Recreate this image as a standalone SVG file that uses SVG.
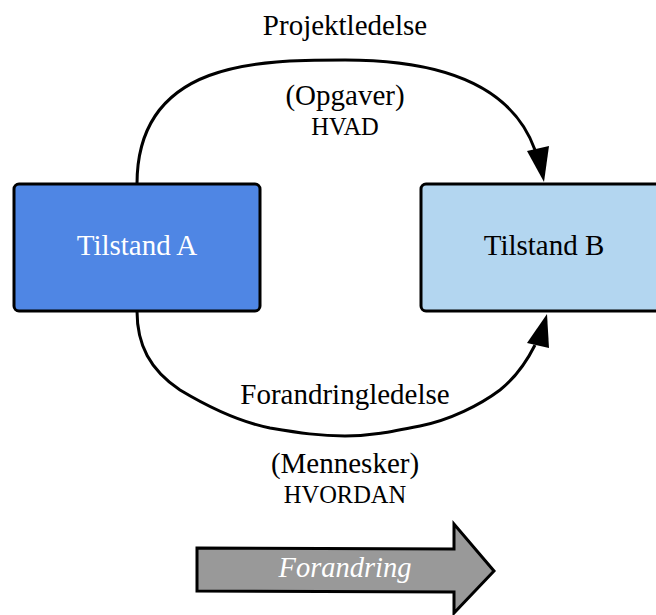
<svg xmlns="http://www.w3.org/2000/svg" width="656" height="615" viewBox="0 0 656 615">
<defs>
<style>
.t{font-family:"Liberation Serif","Times New Roman",serif;text-anchor:middle;fill:#000}
.node{stroke:#000;stroke-width:3}
.edge{fill:none;stroke:#000;stroke-width:3}
</style>
</defs>
<rect width="656" height="615" fill="#fff"/>
<g id="connectors">
<path class="edge" d="M137,184 C137,60 260,60 345,60 C430,60 510,80 535,150"/>
<polygon points="527,151 549,146 544,182" fill="#000"/>
<path class="edge" d="M137,311 C137,345 150,370 180,390 C210,408 240,422 270,428 C300,433 320,436 345,436 C370,436 390,432 420,426 C450,420 480,405 500,390 C515,378 525,365 535,345"/>
<polygon points="527,343 549,348 547,314" fill="#000"/>
</g>
<g id="nodeA">
<rect class="node" x="14" y="184" width="246" height="127" rx="5" fill="#4f86e4"/>
<text class="t" x="137" y="255" font-size="29" style="fill:#fff">Tilstand A</text>
</g>
<g id="nodeB">
<rect class="node" x="421" y="184" width="250" height="127" rx="5" fill="#b3d6f0"/>
<text class="t" x="544" y="255" font-size="29">Tilstand B</text>
</g>
<g id="labels">
<text class="t" x="345" y="35" font-size="29">Projektledelse</text>
<text class="t" x="345" y="105" font-size="29">(Opgaver)</text>
<text class="t" x="345" y="135" font-size="24.5">HVAD</text>
<text class="t" x="345" y="404" font-size="29">Forandringledelse</text>
<text class="t" x="345" y="473" font-size="29">(Mennesker)</text>
<text class="t" x="345" y="503" font-size="24.5">HVORDAN</text>
</g>
<g id="forandring">
<polygon points="197,548 454,549 454,524 494,571 454,613 454,592 197,591" fill="#999" stroke="#000" stroke-width="3" stroke-linejoin="miter"/>
<text class="t" x="345" y="577" font-size="28.5" font-style="italic" style="fill:#fff">Forandring</text>
</g>
</svg>
